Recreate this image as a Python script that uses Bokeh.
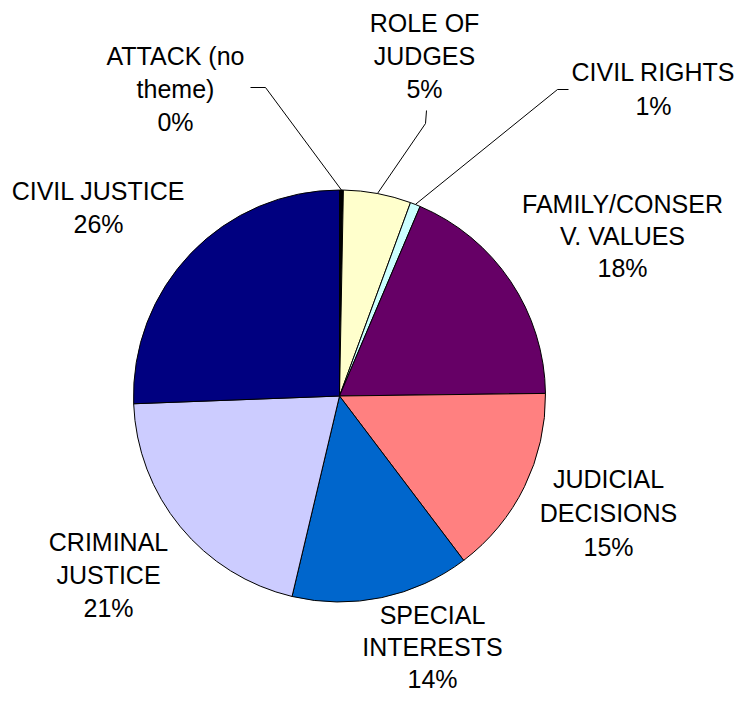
import math
from bokeh.plotting import figure
from bokeh.models import ColumnDataSource, Range1d
from bokeh.core.properties import value
from bokeh.embed import file_html
from bokeh.resources import INLINE

# ---- data (clockwise from 12 o'clock) ----
categories = ["ATTACK (no\ntheme)", "ROLE OF\nJUDGES", "CIVIL RIGHTS", "FAMILY/CONSER\nV. VALUES",
              "JUDICIAL\nDECISIONS", "SPECIAL\nINTERESTS", "CRIMINAL\nJUSTICE", "CIVIL JUSTICE"]
shares = [0.3, 5.3, 0.8, 18.4, 14.9, 14.0, 20.7, 25.6]
colors = ["#000000", "#FFFFCC", "#CCFFFF", "#660066", "#FF8080", "#0066CC", "#CCCCFF", "#000080"]

# ---- layout (image pixel coords) ----
W, H = 738, 692
CX, CY, R = 339, 395.5, 206
label_pos = [(175, 55), (424, 22), (653, 71), (622, 203), (608, 478), (432, 614), (108, 541), (98, 190)]
line_sp = [33, 33, 34, 32, 34, 32, 33, 33]
leader_elbows = {0: [(250, 87), (265, 87)], 1: [(426, 110), (425, 123)], 2: [(568, 89), (557, 89)]}

def Y(yimg):
    return H - yimg

p = figure(width=W, height=H, output_backend="svg", toolbar_location=None,
           x_range=Range1d(0, W), y_range=Range1d(0, H), min_border=0)
p.axis.visible = False
p.grid.visible = False
p.outline_line_color = None
p.background_fill_color = "white"
p.border_fill_color = "white"

total = sum(shares)
starts, ends, mids = [], [], []
cum = 0.0
for s in shares:
    a0 = math.pi / 2 - 2 * math.pi * cum / total
    cum += s
    a1 = math.pi / 2 - 2 * math.pi * cum / total
    starts.append(a0); ends.append(a1); mids.append((a0 + a1) / 2)

src = ColumnDataSource(dict(start=starts, end=ends, color=colors))
p.wedge(x=CX, y=Y(CY), radius=R, start_angle="start", end_angle="end", direction="clock",
        fill_color="color", line_color="black", line_width=1, source=src)

# leader lines
for i, elbows in leader_elbows.items():
    px = CX + R * math.cos(mids[i])
    py = Y(CY) + R * math.sin(mids[i])
    xs = [e[0] for e in elbows] + [px]
    ys = [Y(e[1]) for e in elbows] + [py]
    p.line(xs, ys, line_color="black", line_width=1)

# labels
tx, ty, tt = [], [], []
for name, s, (lx, ly), sp in zip(categories, shares, label_pos, line_sp):
    lines = name.split("\n") + [f"{round(s)}%"]
    for k, ln in enumerate(lines):
        tx.append(lx); ty.append(Y(ly + k * sp)); tt.append(ln)
p.text(x=tx, y=ty, text=tt, text_font=value("Liberation Sans"), text_font_size="25px",
       text_align="center", text_baseline="middle", text_color="black")

open("out.html", "w").write(file_html(p, INLINE))
